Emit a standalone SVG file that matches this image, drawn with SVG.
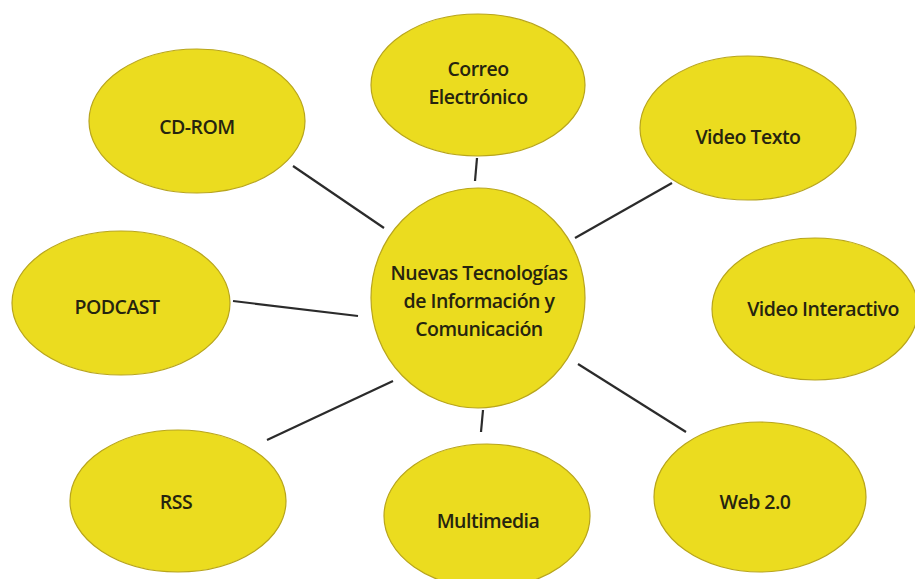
<svg xmlns="http://www.w3.org/2000/svg" width="915" height="579" viewBox="0 0 915 579">
  <style>
    .node ellipse { fill: #ebdc1f; stroke: #b8a51c; stroke-width: 1.2; }
    .node text { font-family: "Open Sans", "Liberation Sans", sans-serif; font-size: 19.5px; font-weight: 600; fill: #26240f; text-anchor: middle; letter-spacing: -0.5px; }
    #connectors line { stroke: #2b2b2b; stroke-width: 2.2; stroke-linecap: butt; }
  </style>
  <rect width="915" height="579" fill="#ffffff"/>

  <g id="connectors">
    <line x1="293" y1="166" x2="384" y2="228"/>
    <line x1="477" y1="158" x2="475" y2="181"/>
    <line x1="672" y1="183" x2="575" y2="238"/>
    <line x1="233" y1="301" x2="358" y2="316"/>
    <line x1="267" y1="440" x2="393" y2="381"/>
    <line x1="483" y1="410" x2="481" y2="432"/>
    <line x1="578" y1="364" x2="686" y2="432"/>
  </g>

  <g id="node-center" class="node">
    <ellipse cx="478" cy="298" rx="107" ry="110"/>
    <text x="479" y="280">Nuevas Tecnologías</text>
    <text x="479" y="308">de Información y</text>
    <text x="479" y="336">Comunicación</text>
  </g>

  <g id="node-cdrom" class="node">
    <ellipse cx="197" cy="121" rx="108" ry="72"/>
    <text x="197" y="134">CD-ROM</text>
  </g>

  <g id="node-correo" class="node">
    <ellipse cx="478" cy="85" rx="107" ry="71"/>
    <text x="478" y="76">Correo</text>
    <text x="478" y="104">Electrónico</text>
  </g>

  <g id="node-videotexto" class="node">
    <ellipse cx="748" cy="128" rx="108" ry="72"/>
    <text x="748" y="144">Video Texto</text>
  </g>

  <g id="node-podcast" class="node">
    <ellipse cx="121" cy="303" rx="109" ry="72"/>
    <text x="117" y="314">PODCAST</text>
  </g>

  <g id="node-videointeractivo" class="node">
    <ellipse cx="815" cy="309" rx="103" ry="71"/>
    <text x="823" y="316">Video Interactivo</text>
  </g>

  <g id="node-rss" class="node">
    <ellipse cx="178" cy="501" rx="108" ry="71"/>
    <text x="176" y="509">RSS</text>
  </g>

  <g id="node-multimedia" class="node">
    <ellipse cx="487" cy="516" rx="103" ry="72"/>
    <text x="488" y="528">Multimedia</text>
  </g>

  <g id="node-web" class="node">
    <ellipse cx="760" cy="497" rx="106" ry="75"/>
    <text x="755" y="509">Web 2.0</text>
  </g>
</svg>
